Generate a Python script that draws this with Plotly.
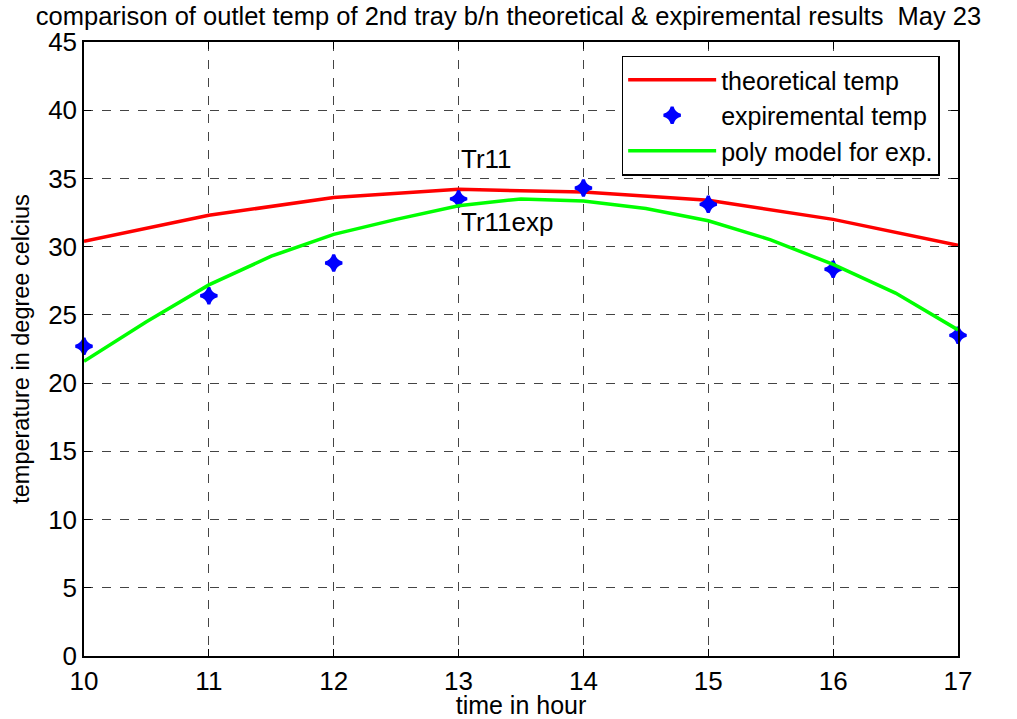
import plotly.graph_objects as go

# Hour of day
hours = [10, 11, 12, 13, 14, 15, 16, 17]
# Theoretical outlet temperature of the 2nd tray (deg C)
theoretical_temp = [30.4, 32.3, 33.6, 34.2, 34.0, 33.4, 32.0, 30.1]
# Measured outlet temperature (deg C)
experimental_temp = [22.7, 26.4, 28.8, 33.5, 34.3, 33.1, 28.35, 23.5]
# Polynomial model evaluated on a finer grid
poly_hours = [10, 10.5, 11, 11.5, 12, 12.5, 13, 13.5, 14, 14.5, 15, 15.5, 16, 16.5, 17]
poly_temp = [21.6, 24.5, 27.2, 29.3, 30.9, 32.0, 33.0, 33.5, 33.35, 32.8, 31.9, 30.5, 28.7, 26.6, 23.9]

FONT = "Liberation Sans, Arial, sans-serif"
FS = 26

fig = go.Figure()
fig.add_trace(go.Scatter(
    x=hours, y=theoretical_temp, mode="lines", name="theoretical temp",
    line=dict(color="#ff0000", width=3.5),
))
fig.add_trace(go.Scatter(
    x=hours, y=experimental_temp, mode="markers", name="expiremental temp",
    cliponaxis=False,
    marker=dict(symbol="star-diamond", size=12, color="#0000ff",
                line=dict(color="#0000ff", width=3)),
))
fig.add_trace(go.Scatter(
    x=poly_hours, y=poly_temp, mode="lines", name="poly model for exp.",
    line=dict(color="#00ff00", width=3.5),
))

fig.add_annotation(x=13, y=36.4, text="Tr11", showarrow=False,
                   xanchor="left", yanchor="middle",
                   font=dict(family=FONT, size=FS, color="black"))
fig.add_annotation(x=13, y=31.8, text="Tr11exp", showarrow=False,
                   xanchor="left", yanchor="middle",
                   font=dict(family=FONT, size=FS, color="black"))

axis_common = dict(
    showline=True, linecolor="black", linewidth=1.5, mirror="ticks",
    ticks="inside", ticklen=7, tickcolor="black",
    showgrid=True, gridcolor="#444444", griddash="dash", gridwidth=1,
    zeroline=False, automargin=False,
    tickfont=dict(family=FONT, size=FS, color="black"),
)

fig.update_layout(
    width=1017, height=719,
    margin=dict(l=84, r=59, t=42, b=63),
    paper_bgcolor="white", plot_bgcolor="white",
    title=dict(text="comparison of outlet temp of 2nd tray b/n theoretical & expiremental results  May 23",
               x=0.5, xanchor="center", xref="container",
               y=1 - 16 / 719, yanchor="middle", yref="container",
               font=dict(family=FONT, size=25.5, color="black")),
    xaxis=dict(range=[10, 17], dtick=1, ticklabelstandoff=1, **axis_common,
               title=dict(text="time in hour", standoff=0,
                          font=dict(family=FONT, size=25, color="black"))),
    yaxis=dict(range=[0, 45], dtick=5, **axis_common,
               title=dict(text="temperature in degree celcius", standoff=12,
                          font=dict(family=FONT, size=23.5, color="black"))),
    legend=dict(x=0.979, y=0.978, xanchor="right", yanchor="top",
                bgcolor="white", bordercolor="black", borderwidth=1.5,
                font=dict(family=FONT, size=25, color="black"),
                itemwidth=88, tracegroupgap=0),
    showlegend=True,
)

fig.write_html("out.html")
